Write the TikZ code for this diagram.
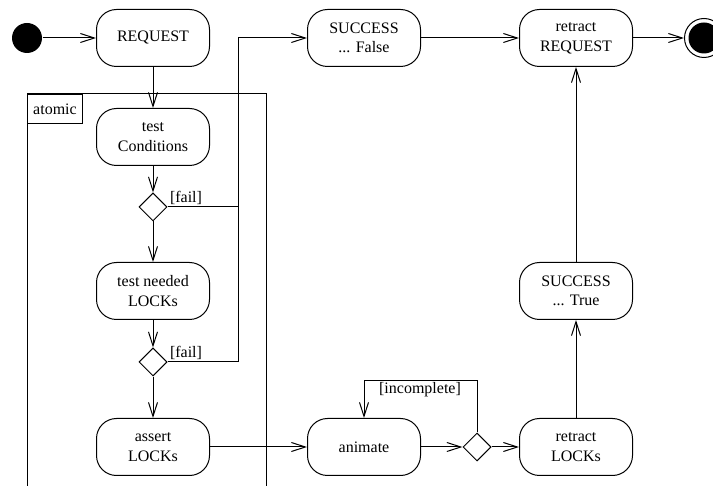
\documentclass[tikz,border=0pt]{standalone}
\usepackage{fontspec}
\setmainfont{Liberation Serif}
\usetikzlibrary{shapes.geometric,arrows.meta}

\begin{document}
\begin{tikzpicture}[x=0.5pt,y=-0.5pt,font=\fontsize{8}{9.8}\selectfont,
  act/.style={rectangle,draw,rounded corners=10pt,minimum width=56.5pt,minimum height=28.5pt,align=center},
  dec/.style={diamond,draw,minimum size=14pt,inner sep=0pt},
  arr/.style={-{Straight Barb[length=7pt,width=4.5pt]}},
  every path/.style={line width=0.5pt}]
\useasboundingbox (0,0) rectangle (713,486);
% frame of the atomic part
\draw (27,490) |- (266,94) -- (266,490);
\node[draw,anchor=north west,minimum width=27.5pt,minimum height=14.5pt,inner sep=1pt] (atom) at (27,94) {atomic};
% nodes
\node[circle,fill=black,minimum size=15pt,inner sep=0pt] (start) at (27,38) {};
\node[act] (req) at (153,38) {REQUEST};
\node[act] (sf) at (364,38) {SUCCESS\\... False};
\node[act] (rr) at (576,38) {retract\\REQUEST};
\node[circle,draw,minimum size=19.5pt,inner sep=0pt] (fin) at (704,38) {};
\node[circle,fill=black,minimum size=15.5pt,inner sep=0pt] at (fin) {};
\node[act] (tc) at (153,137) {test\\Conditions};
\node[dec] (d1) at (153,207) {};
\node[act] (tl) at (153,291) {test needed\\LOCKs};
\node[dec] (d2) at (153,362) {};
\node[act] (al) at (153,447) {assert\\LOCKs};
\node[act] (an) at (364,447) {animate};
\node[dec] (d3) at (477,447) {};
\node[act] (rl) at (576,447) {retract\\LOCKs};
\node[act] (st) at (576,291) {SUCCESS\\... True};
\coordinate (jn) at (238,38);
% connectors
\draw[arr] (start) -- (req);
\draw[arr] (req) -- (tc);
\draw[arr] (tc) -- (d1);
\draw[arr] (d1) -- (tl);
\draw[arr] (tl) -- (d2);
\draw[arr] (d2) -- (al);
\draw[arr] (al) -- (an);
\draw[arr] (an) -- (d3);
\draw[arr] (d3) -- (rl);
\draw[arr] (rl) -- (st);
\draw[arr] (st) -- (rr);
\draw[arr] (sf) -- (rr);
\draw[arr] (rr) -- (fin);
\draw[arr] (d1.east) -| (jn) -- (sf.west);
\draw (d2.east) -| (jn |- d1.east);
\draw[arr] (d3.north) -- ++(0,-52) -| (an.north);
\node[anchor=south west,inner sep=1pt] at (d1.east) {[fail]};
\node[anchor=south west,inner sep=1pt] at (d2.east) {[fail]};
\node at (420,390) {[incomplete]};
\end{tikzpicture}
\end{document}
